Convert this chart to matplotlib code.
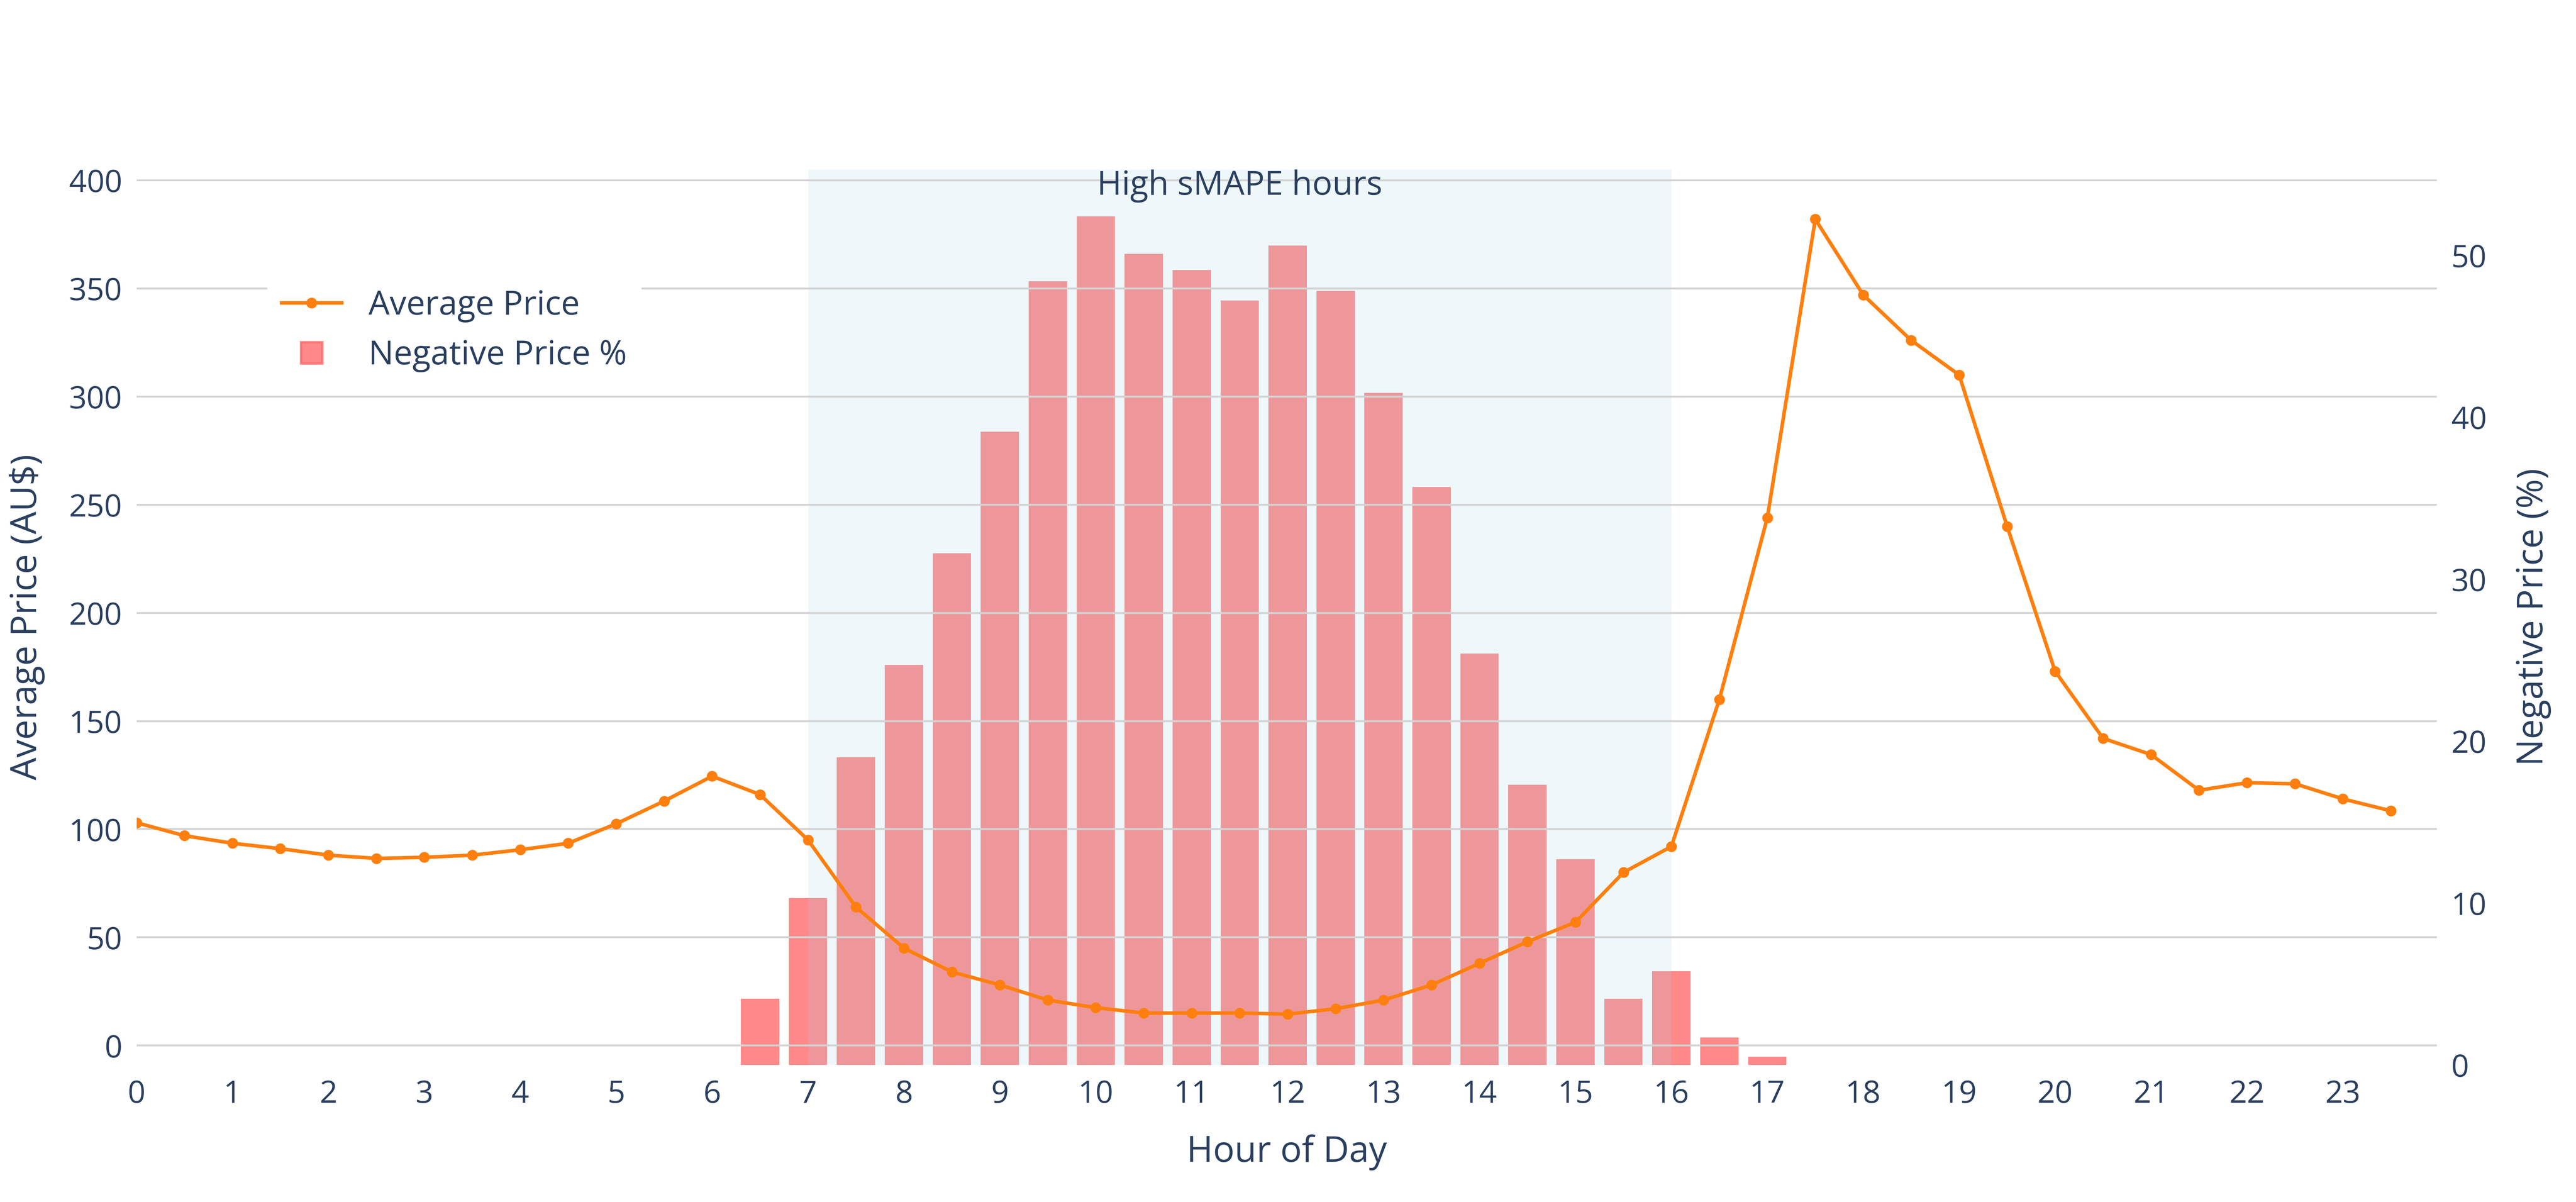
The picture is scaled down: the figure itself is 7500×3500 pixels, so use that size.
import matplotlib.pyplot as plt
from matplotlib.lines import Line2D

# -----------------------------
# DATA
# -----------------------------
hours = [h / 2 for h in range(48)]
avg_price = [103, 97, 93.5, 91, 88, 86.5, 87, 88, 90.5, 93.5,
             102.5, 113, 124.5, 116, 95, 64, 45, 34, 28, 21,
             17.5, 15, 15, 15, 14.5, 17, 21, 28, 38, 48,
             57, 80, 92, 160, 244, 382, 347, 326, 310, 240,
             173, 142, 134.5, 118, 121.5, 121, 114, 108.5]

bar_hours = [6.5, 7, 7.5, 8, 8.5, 9, 9.5, 10, 10.5, 11, 11.5,
             12, 12.5, 13, 13.5, 14, 14.5, 15, 15.5, 16, 16.5, 17]
neg_pct = [4.1, 10.3, 19.0, 24.7, 31.6, 39.1, 48.4, 52.4, 50.1, 49.1, 47.2,
           50.6, 47.8, 41.5, 35.7, 25.4, 17.3, 12.7, 4.1, 5.8, 1.7, 0.5]

shade_start, shade_end = 7, 16
TEXT = "#2a3f5f"
LINE_C = "#ff7f0e"
BAR_C = "#ff6b6b"

plt.rcParams["font.family"] = ["Open Sans", "DejaVu Sans"]

fig = plt.figure(figsize=(15.0, 7.0), dpi=500)
ax2 = fig.add_axes([0.053, 0.114, 0.893, 0.745])
ax1 = ax2.twinx()
# price axis on the left, percent axis on the right
ax1.yaxis.tick_left()
ax1.yaxis.set_label_position("left")
ax2.yaxis.tick_right()
ax2.yaxis.set_label_position("right")

ax2.bar(bar_hours, neg_pct, width=0.4, color=BAR_C, alpha=0.8, zorder=2)
ax2.axvspan(shade_start, shade_end, color="#add8e6", alpha=0.2, lw=0, zorder=3)
ax2.set_ylim(0, 55.3)
ax2.set_yticks([0, 10, 20, 30, 40, 50])
ax2.set_ylabel("Negative Price (%)", fontsize=15, color=TEXT, labelpad=12)

ax1.set_zorder(ax2.get_zorder() + 1)
ax1.patch.set_visible(False)
ax1.plot(hours, avg_price, color=LINE_C, lw=1.5, marker="o", ms=3.5, zorder=5)
ax1.set_ylim(-9, 405)
ax1.set_yticks(range(0, 401, 50))
ax1.set_ylabel("Average Price (AU$)", fontsize=15, color=TEXT, labelpad=10)
ax1.set_xlim(0, 23.98)
ax1.set_xticks(range(24))
ax2.set_xlabel("Hour of Day", fontsize=15, color=TEXT, labelpad=10)

ax1.grid(True, color="#d3d3d3", lw=0.8, zorder=0)
ax2.grid(False)
for a in (ax1, ax2):
    for s in a.spines.values():
        s.set_visible(False)
    a.tick_params(length=0, labelsize=13, labelcolor=TEXT, pad=6)
ax2.tick_params(axis="x", length=0, labelsize=13, labelcolor=TEXT)

ax1.text((shade_start + shade_end) / 2, 1.0, "High sMAPE hours",
         transform=ax1.get_xaxis_transform(), ha="center", va="top",
         fontsize=14, color=TEXT)

handles = [
    Line2D([], [], color=LINE_C, lw=1.5, marker="o", ms=3.5),
    Line2D([], [], color=BAR_C, lw=0, marker="s", ms=9, alpha=0.8),
]
leg = ax1.legend(handles, ["Average Price", "Negative Price %"],
                 loc="upper left", bbox_to_anchor=(0.05, 0.9), fontsize=14,
                 frameon=True, fancybox=False, edgecolor="white",
                 framealpha=1, handlelength=1.8, borderpad=0.4)
for t in leg.get_texts():
    t.set_color(TEXT)

fig.savefig("out.png", dpi=500, facecolor="white")
